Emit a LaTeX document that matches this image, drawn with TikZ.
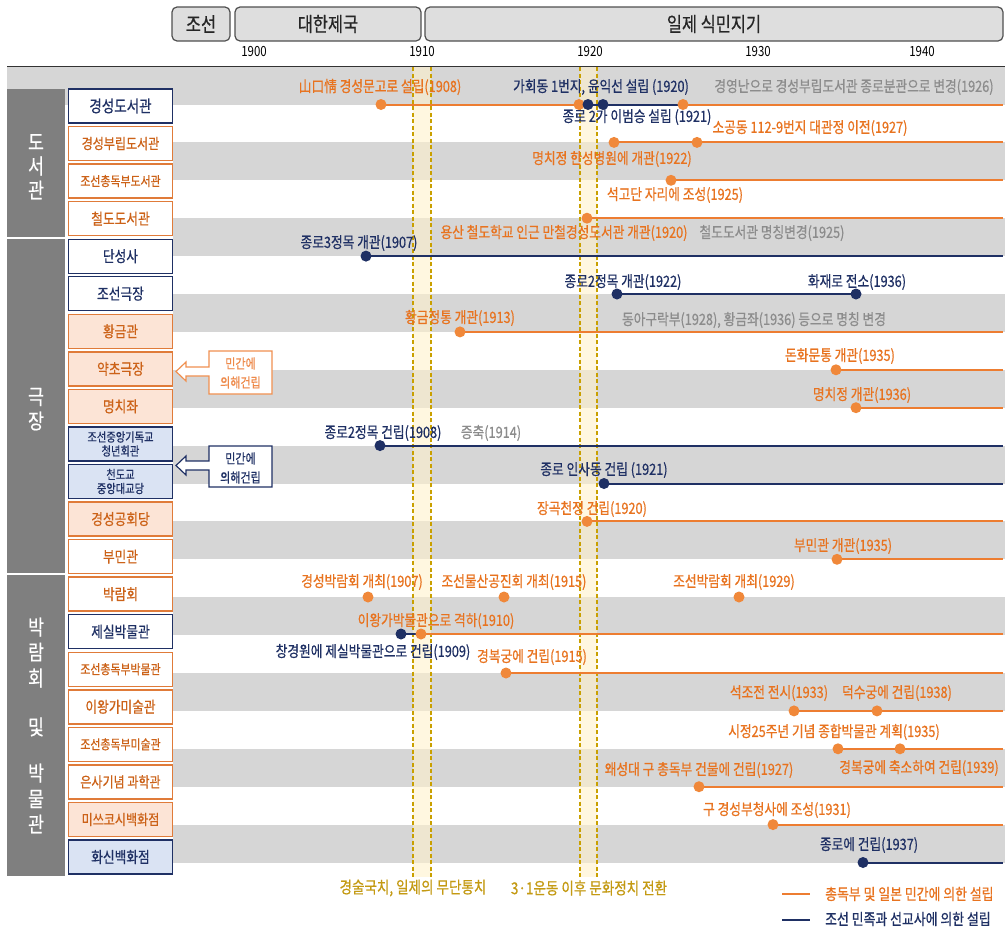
\documentclass[tikz,border=0pt]{standalone}
\usepackage{fontspec}
\setmainfont{Noto Sans CJK KR}[FakeStretch=0.82]
\newfontfamily\krb{Noto Sans CJK KR}[FakeStretch=0.82,FakeBold=0.6]
\pgfdeclarelayer{bg}
\pgfdeclarelayer{lines}
\pgfsetlayers{bg,lines,main}
\definecolor{navy}{HTML}{1F3064}
\definecolor{labor}{HTML}{E8731F}
\definecolor{dotor}{HTML}{F0883A}
\definecolor{lineor}{HTML}{ED7D31}
\definecolor{boxor}{HTML}{E07B39}
\definecolor{boxortext}{HTML}{CC6218}
\definecolor{lightor}{HTML}{FCE4D6}
\definecolor{lightblue}{HTML}{DAE3F3}
\definecolor{txtgray}{HTML}{8C8C8C}
\definecolor{bandgray}{HTML}{D6D6D6}
\definecolor{catgray}{HTML}{7F7F7F}
\definecolor{goldc}{HTML}{C49A12}
\definecolor{dashgold}{HTML}{C9A000}
\definecolor{yelfill}{HTML}{FFF2CC}
\definecolor{erafill}{HTML}{DEDEDE}
\definecolor{eraborder}{HTML}{505050}
\definecolor{eratext}{HTML}{262626}
\definecolor{callor}{HTML}{EE8A4A}
\definecolor{callorborder}{HTML}{F09050}
\begin{document}
\begin{tikzpicture}[x=1pt,y=-1pt,
  lab/.style={font=\krb\fontsize{15.5}{17}\selectfont, inner sep=0pt},
  olab/.style={lab,text=labor},
  nlab/.style={lab,text=navy},
  glab/.style={lab,text=txtgray},
  dotb/.style={circle,inner sep=0pt,minimum size=11pt},
  odot/.style={dotb,fill=dotor},
  ndot/.style={dotb,fill=navy},
  oline/.style={draw=lineor,line width=2pt},
  nline/.style={draw=navy,line width=2pt},
  rowbox/.style={draw,line width=1.4pt,minimum width=104pt,minimum height=34pt,inner sep=1pt,font=\krb\fontsize{15.5}{17}\selectfont,align=center},
  nbox/.style={rowbox,draw=navy,fill=white,text=navy},
  obox/.style={rowbox,draw=boxor,fill=white,text=boxortext},
  ofbox/.style={rowbox,draw=boxor,fill=lightor,text=boxortext},
  nfbox/.style={rowbox,draw=navy,fill=lightblue,text=navy},
  era/.style={draw=eraborder,fill=erafill,rounded corners=5pt,line width=1.2pt,font=\krb\fontsize{20}{22}\selectfont,text=eratext,minimum height=34pt,inner sep=0pt},
  yr/.style={font=\fontsize{14}{16}\selectfont,text=black,inner sep=0pt},
  cat/.style={text=white,font=\krb\fontsize{21}{23}\selectfont,inner sep=0pt},
  goldlab/.style={text=goldc,font=\krb\fontsize{16.5}{18}\selectfont,inner sep=0pt},
  big1/.style={font=\krb\fontsize{16.5}{18}\selectfont},
  small2/.style={font=\krb\fontsize{12.5}{14}\selectfont},
  small1/.style={font=\krb\fontsize{13.3}{15}\selectfont},
  mid1/.style={font=\krb\fontsize{14.7}{16}\selectfont},
  calltext/.style={font=\krb\fontsize{13.5}{19}\selectfont,align=center,inner sep=0pt},
  dashv/.style={draw=dashgold,line width=1.3pt,dash pattern=on 4pt off 2.5pt},
]
\useasboundingbox (0,0) rectangle (1005,927);

% ---------- background ----------
\begin{pgfonlayer}{bg}
\fill[white] (0,0) rectangle (1005,927);
\fill[bandgray] (7,67) rectangle (1005,104.5);
\foreach \k in {1,...,10}
  \fill[bandgray] (173,{104.5+37.9*(2*\k-1)}) rectangle (1005,{104.5+37.9*2*\k});
\draw[draw=black!80,line width=1pt] (7,66.5) -- (1005,66.5);
\fill[yelfill,opacity=0.6] (413,67) rectangle (431,877);
\fill[yelfill,opacity=0.6] (580,67) rectangle (597,877);
\coordinate (va1) at (413,67); \coordinate (vb1) at (413,877);
\coordinate (va2) at (431,67); \coordinate (vb2) at (431,877);
\coordinate (va3) at (580,67); \coordinate (vb3) at (580,877);
\coordinate (va4) at (597,67); \coordinate (vb4) at (597,877);
\draw[dashv] (va1) -- (vb1);
\draw[dashv] (va2) -- (vb2);
\draw[dashv] (va3) -- (vb3);
\draw[dashv] (va4) -- (vb4);
% category blocks
\fill[catgray] (7,89) rectangle (65,237.3);
\fill[catgray] (7,238.7) rectangle (65,573.3);
\fill[catgray] (7,574.7) rectangle (65,876);
\end{pgfonlayer}

% ---------- header ----------
\node[era,minimum width=58pt] (eraA) at (201,24) {조선};
\node[era,minimum width=186pt] (eraB) at (328,24) {대한제국};
\node[era,minimum width=578pt] (eraC) at (714,24) {일제 식민지기};
\node[yr] (y1900) at (254,52) {1900};
\node[yr] (y1910) at (422,52) {1910};
\node[yr] (y1920) at (590,52) {1920};
\node[yr] (y1930) at (758,52) {1930};
\node[yr] (y1940) at (922,52) {1940};

% ---------- category labels ----------
\node[cat] (c1a) at (36,142) {도};
\node[cat] (c1b) at (36,166) {서};
\node[cat] (c1c) at (36,190) {관};
\node[cat] (c2a) at (36,397) {극};
\node[cat] (c2b) at (36,421) {장};
\node[cat] (c3a) at (36,627) {박};
\node[cat] (c3b) at (36,652) {람};
\node[cat] (c3c) at (36,678) {회};
\node[cat] (c3d) at (36,727) {및};
\node[cat] (c3e) at (36,773) {박};
\node[cat] (c3f) at (36,799) {물};
\node[cat] (c3g) at (36,824) {관};

% ---------- row boxes ----------
\node[nbox,big1] (b0) at (120.5,106) {경성도서관};
\node[obox,mid1] (b1) at (120.5,143.55) {경성부립도서관};
\node[obox,small1] (b2) at (120.5,181.1) {조선총독부도서관};
\node[obox] (b3) at (120.5,218.65) {철도도서관};
\node[nbox] (b4) at (120.5,256.2) {단성사};
\node[nbox] (b5) at (120.5,293.75) {조선극장};
\node[ofbox] (b6) at (120.5,331.3) {황금관};
\node[ofbox] (b7) at (120.5,368.85) {약초극장};
\node[ofbox] (b8) at (120.5,406.4) {명치좌};
\node[nfbox,small2] (b9) at (120.5,443.95) {조선중앙기독교\\청년회관};
\node[nfbox,small2] (b10) at (120.5,481.5) {천도교\\중앙대교당};
\node[ofbox] (b11) at (120.5,519.05) {경성공회당};
\node[obox] (b12) at (120.5,556.6) {부민관};
\node[obox] (b13) at (120.5,594.15) {박람회};
\node[nbox] (b14) at (120.5,631.7) {제실박물관};
\node[obox,small1] (b15) at (120.5,669.25) {조선총독부박물관};
\node[obox] (b16) at (120.5,706.8) {이왕가미술관};
\node[obox,small1] (b17) at (120.5,744.35) {조선총독부미술관};
\node[obox,mid1] (b18) at (120.5,781.9) {은사기념 과학관};
\node[ofbox,mid1] (b19) at (120.5,819.45) {미쓰코시백화점};
\node[nfbox] (b20) at (120.5,857) {화신백화점};

% ---------- callouts ----------
\draw[draw=callorborder,fill=white,line width=1.2pt]
  (272,351) -- (209,351) -- (209,367) -- (186,367) -- (186,362) -- (176,371.5)
  -- (186,381) -- (186,376) -- (209,376) -- (209,394) -- (272,394) -- cycle;
\node[calltext,text=callor] (co1) at (240.5,373) {민간에\\의해건립};
\draw[draw=navy,fill=white,line width=1.2pt]
  (272,446) -- (209,446) -- (209,461) -- (186,461) -- (186,456) -- (176,465.5)
  -- (186,475) -- (186,470) -- (209,470) -- (209,487) -- (272,487) -- cycle;
\node[calltext,text=navy] (co2) at (240.5,468) {민간에\\의해건립};

% ---------- timeline labels ----------
\node[olab] (t0a) at (380,87) {山口情 경성문고로 설립(1908)};
\node[nlab] (t0b) at (601,87) {가회동 1번지, 윤익선 설립 (1920)};
\node[glab] (t0c) at (854,87) {경영난으로 경성부립도서관 종로분관으로 변경(1926)};
\node[nlab] (t0d) at (637,117) {종로 2가 이범승 설립 (1921)};
\node[olab] (t1a) at (810,128) {소공동 112-9번지 대관정 이전(1927)};
\node[olab] (t1b) at (612,159) {명치정 한성병원에 개관(1922)};
\node[olab] (t2a) at (675,195) {석고단 자리에 조성(1925)};
\node[olab] (t3a) at (564,233) {용산 철도학교 인근 만철경성도서관 개관(1920)};
\node[glab] (t3b) at (772,233) {철도도서관 명칭변경(1925)};
\node[nlab] (t4a) at (359,243) {종로3정목 개관(1907)};
\node[nlab] (t5a) at (623,282) {종로2정목 개관(1922)};
\node[nlab] (t5b) at (857,282) {화재로 전소(1936)};
\node[olab] (t6a) at (460,318) {황금정통 개관(1913)};
\node[glab] (t6b) at (754,320) {동아구락부(1928), 황금좌(1936) 등으로 명칭 변경};
\node[olab] (t7a) at (840,356) {돈화문통 개관(1935)};
\node[olab] (t8a) at (862,395) {명치정 개관(1936)};
\node[nlab] (t9a) at (383,433) {종로2정목 건립(1908)};
\node[glab] (t9b) at (491,433) {증축(1914)};
\node[nlab] (t10a) at (604,470) {종로 인사동 건립 (1921)};
\node[olab] (t11a) at (592,509) {장곡천정 건립(1920)};
\node[olab] (t12a) at (843,546) {부민관 개관(1935)};
\node[olab] (t13a) at (362,582) {경성박람회 개최(1907)};
\node[olab] (t13b) at (514,582) {조선물산공진회 개최(1915)};
\node[olab] (t13c) at (734,582) {조선박람회 개최(1929)};
\node[olab] (t14a) at (436,621) {이왕가박물관으로 격하(1910)};
\node[nlab] (t14b) at (373,652) {창경원에 제실박물관으로 건립(1909)};
\node[olab] (t15a) at (532,657) {경복궁에 건립(1915)};
\node[olab] (t16a) at (779,693) {석조전 전시(1933)};
\node[olab] (t16b) at (897,693) {덕수궁에 건립(1938)};
\node[olab] (t17a) at (834,732) {시정25주년 기념 종합박물관 계획(1935)};
\node[olab] (t17b) at (919,768) {경복궁에 축소하여 건립(1939)};
\node[olab] (t18a) at (699,770) {왜성대 구 총독부 건물에 건립(1927)};
\node[olab] (t19a) at (777,810) {구 경성부청사에 조성(1931)};
\node[nlab] (t20a) at (869,845) {종로에 건립(1937)};

% ---------- dots ----------
\node[odot] (d0a) at (381,104.5) {};
\node[odot] (d0b) at (579,104.5) {};
\node[ndot] (d0c) at (588,104.5) {};
\node[ndot] (d0d) at (603,104.5) {};
\node[odot] (d0e) at (683,104.5) {};
\node[odot] (d1a) at (614,142.4) {};
\node[odot] (d1b) at (697,142.4) {};
\node[odot] (d2a) at (671,180.3) {};
\node[odot] (d3a) at (587,218.2) {};
\node[ndot] (d4a) at (366,256.1) {};
\node[ndot] (d5a) at (617,294) {};
\node[ndot] (d5b) at (856,294) {};
\node[odot] (d6a) at (460,331.9) {};
\node[odot] (d7a) at (836,369.8) {};
\node[odot] (d8a) at (856,407.7) {};
\node[ndot] (d9a) at (380,445.6) {};
\node[ndot] (d10a) at (604,483.5) {};
\node[odot] (d11a) at (587,521.4) {};
\node[odot] (d12a) at (837,559.3) {};
\node[odot] (d13a) at (368,597) {};
\node[odot] (d13b) at (504,597) {};
\node[odot] (d13c) at (739,597) {};
\node[ndot] (d14a) at (401,634) {};
\node[odot] (d14b) at (421,634) {};
\node[odot] (d15a) at (506,673) {};
\node[odot] (d16a) at (794,710.9) {};
\node[odot] (d16b) at (877,710.9) {};
\node[odot] (d17a) at (838,748.8) {};
\node[odot] (d17b) at (900,748.8) {};
\node[odot] (d18a) at (699,786.7) {};
\node[odot] (d19a) at (773,824.6) {};
\node[ndot] (d20a) at (863,862.5) {};

% right ends
\coordinate (e0) at (1003,104.5);
\coordinate (e1) at (1003,142.4);
\coordinate (e2) at (1003,180.3);
\coordinate (e3) at (1003,218.2);
\coordinate (e4) at (1003,256.1);
\coordinate (e6) at (1003,331.9);
\coordinate (e7) at (1003,369.8);
\coordinate (e8) at (1003,407.7);
\coordinate (e9) at (1003,445.6);
\coordinate (e10) at (1003,483.5);
\coordinate (e11) at (1003,521.4);
\coordinate (e12) at (1003,559.3);
\coordinate (e14) at (1003,634);
\coordinate (e15) at (1003,673);
\coordinate (e16) at (1003,710.9);
\coordinate (e17) at (1003,748.8);
\coordinate (e18) at (1003,786.7);
\coordinate (e19) at (1003,824.6);
\coordinate (e20) at (1003,862.5);

\begin{pgfonlayer}{lines}
\draw[oline] (d0a.center) -- (d0c.center);
\draw[nline] (d0c.center) -- (d0e.center);
\draw[oline] (d0e.center) -- (e0);
\draw[oline] (d1a.center) -- (e1);
\draw[oline] (d2a.center) -- (e2);
\draw[oline] (d3a.center) -- (e3);
\draw[nline] (d4a.center) -- (e4);
\draw[nline] (d5a.center) -- (d5b.center);
\draw[oline] (d6a.center) -- (e6);
\draw[oline] (d7a.center) -- (e7);
\draw[oline] (d8a.center) -- (e8);
\draw[nline] (d9a.center) -- (e9);
\draw[nline] (d10a.center) -- (e10);
\draw[oline] (d11a.center) -- (e11);
\draw[oline] (d12a.center) -- (e12);
\draw[nline] (d14a.center) -- (d14b.center);
\draw[oline] (d14b.center) -- (e14);
\draw[oline] (d15a.center) -- (e15);
\draw[oline] (d16a.center) -- (e16);
\draw[oline] (d17a.center) -- (e17);
\draw[oline] (d18a.center) -- (e18);
\draw[oline] (d19a.center) -- (e19);
\draw[nline] (d20a.center) -- (e20);
\end{pgfonlayer}

% ---------- bottom labels ----------
\node[goldlab] (g1) at (413,888) {경술국치, 일제의 무단통치};
\node[goldlab] (g2) at (589,888) {3·1운동 이후 문화정치 전환};

% ---------- legend ----------
\coordinate (lg1a) at (782,894);
\coordinate (lg1b) at (810,894);
\coordinate (lg2a) at (782,920);
\coordinate (lg2b) at (810,920);
\draw[draw=lineor,line width=1.5pt] (lg1a) -- (lg1b);
\draw[draw=navy,line width=1.5pt] (lg2a) -- (lg2b);
\node[olab,anchor=west,font=\krb\fontsize{15.7}{17}\selectfont] (lg1t) at (825,894) {총독부 및 일본 민간에 의한 설립};
\node[nlab,anchor=west,font=\krb\fontsize{15.7}{17}\selectfont] (lg2t) at (825,919) {조선 민족과 선교사에 의한 설립};
\end{tikzpicture}
\end{document}
